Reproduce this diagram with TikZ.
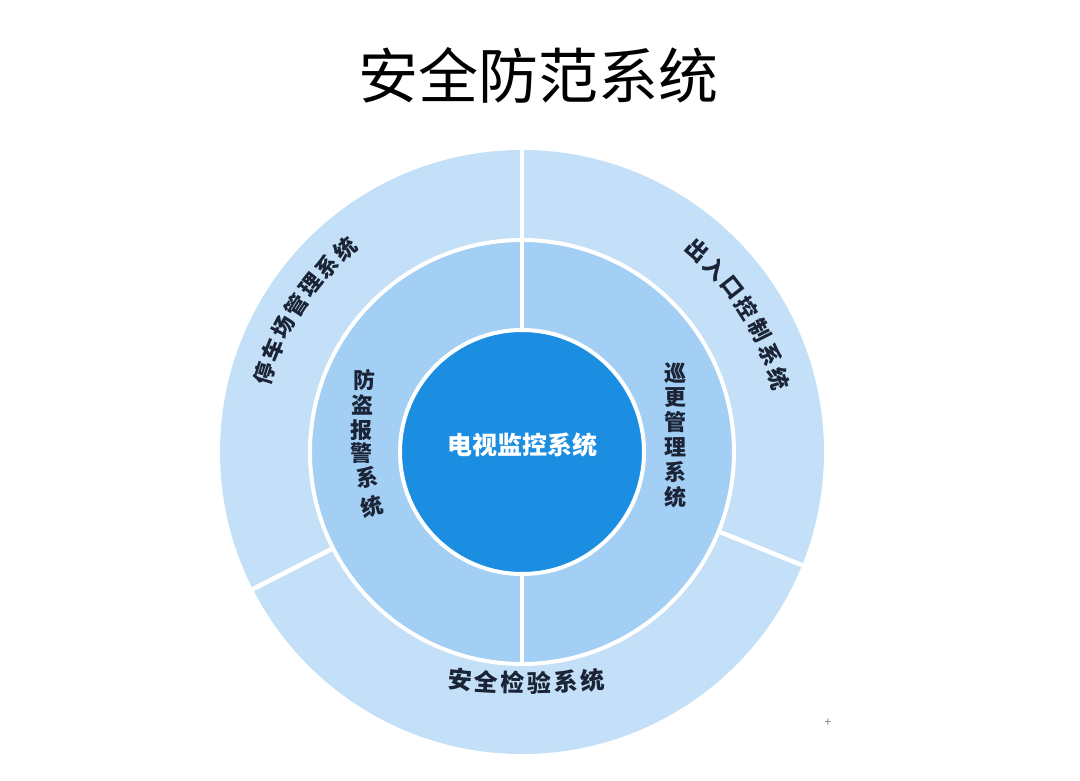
\documentclass[tikz,border=0pt]{standalone}
\usepackage{fontspec}
\setmainfont{Noto Sans CJK SC}
\definecolor{outerblue}{HTML}{C4E0F8}
\definecolor{midblue}{HTML}{A3CFF5}
\definecolor{coreblue}{HTML}{1C8EE1}
\definecolor{ink}{HTML}{1B2436}
\tikzset{
  ring/.style={circle, inner sep=0pt, outer sep=0pt},
  sep/.style={white, line width=4.5pt},
  lbl/.style={inner sep=0pt, text=ink, font=\fontsize{22}{22}\selectfont\bfseries}
}
\begin{document}
\begin{tikzpicture}[x=1pt,y=1pt]
  \useasboundingbox (-522,-328) rectangle (558,452);
  \node (title) at (17,377) {\fontsize{60}{60}\selectfont 安全防范系统};

  % rings
  \node[ring, fill=outerblue, minimum size=604pt] (outer) at (0,0) {};
  \node[ring, fill=midblue, draw=white, line width=4pt, minimum size=424pt] (mid) at (0,0) {};
  \node[ring, fill=coreblue, draw=white, line width=4pt, minimum size=244pt] (core) at (0,0) {};

  % outer dividers
  \foreach \a in {90, 207, 338}
    \draw[sep] (mid.\a) -- (outer.\a);
  % middle dividers
  \foreach \a in {90, 270}
    \draw[sep] (core.\a) -- (mid.\a);

  \node[text=white, font=\fontsize{25}{25}\selectfont\bfseries] (tv) at (1,7) {电视监控系统};

  % outer ring
  \foreach \c [count=\i] in {停,车,场,管,理,系,统}{
    \pgfmathsetmacro\a{163-(\i-1)*5.33}
    \node[lbl, rotate=\a-90] (park\i) at (\a:269) {\c};
  }
  \foreach \c [count=\i] in {出,入,口,控,制,系,统}{
    \pgfmathsetmacro\a{49-(\i-1)*5.5}
    \node[lbl, rotate=\a-90] (gate\i) at (\a:267) {\c};
  }
  \begin{scope}[shift={(4,469)}]
    \foreach \c [count=\i] in {安,全,检,验,系,统}{
      \pgfmathsetmacro\a{264.6+(\i-1)*2.164}
      \node[lbl, font=\fontsize{24}{24}\selectfont\bfseries, rotate=\a+90] (check\i) at (\a:700) {\c};
    }
  \end{scope}

  % middle ring
  \foreach \c/\x/\y/\r [count=\i] in {防/-157/72/0, 盗/-159/47/0, 报/-160/22/0,
      警/-160/-1/0, 系/-155/-26/8, 统/-150/-55/15}
    \node[lbl, rotate=\r] (alarm\i) at (\x,\y) {\c};
  \foreach \c [count=\i] in {巡,更,管,理,系,统}
    \node[lbl] (patrol\i) at (154,104-\i*24.8) {\c};

  \node[text=gray, font=\fontsize{12}{12}\selectfont] (mark) at (306,-271) {+};
\end{tikzpicture}
\end{document}
